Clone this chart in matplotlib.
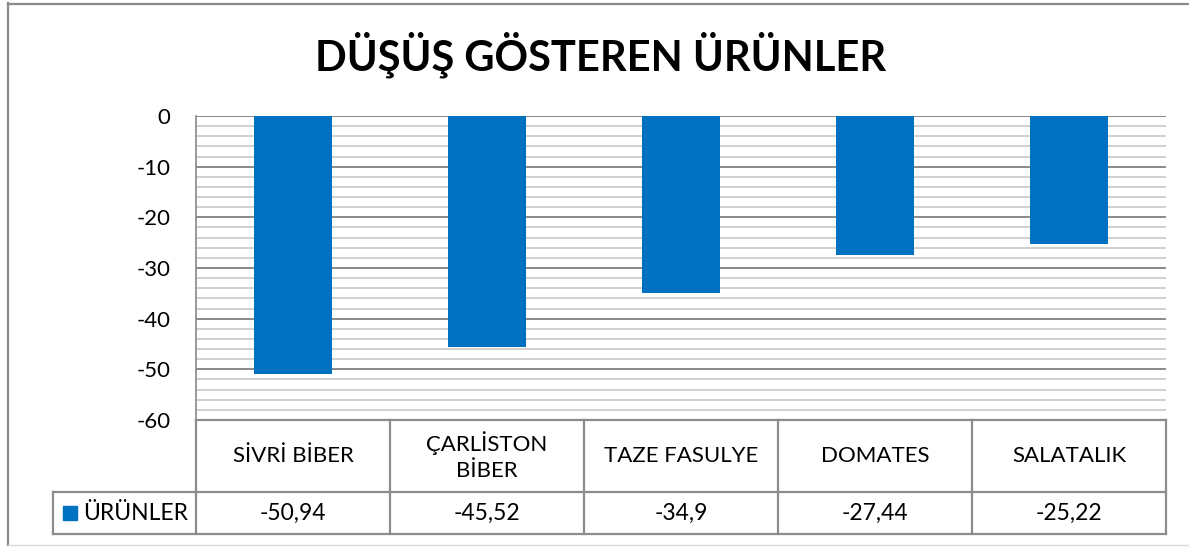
import matplotlib
matplotlib.use("Agg")
import matplotlib.pyplot as plt
from matplotlib.lines import Line2D
from matplotlib.patches import Rectangle

categories = ["SİVRİ BİBER", "ÇARLİSTON\nBİBER", "TAZE FASULYE", "DOMATES", "SALATALIK"]
values = [-50.94, -45.52, -34.9, -27.44, -25.22]
value_labels = ["-50,94", "-45,52", "-34,9", "-27,44", "-25,22"]
series_name = "ÜRÜNLER"
title = "DÜŞÜŞ GÖSTEREN ÜRÜNLER"
yticks = [0, -10, -20, -30, -40, -50, -60]

BLUE = "#0070C0"
GRID_MAJ = "#898989"
GRID_MIN = "#c4c4c4"
BORDER = "#8c8c8c"
FONT = ["Lato", "DejaVu Sans"]

W, H = 1189, 547
fig = plt.figure(figsize=(W / 100, H / 100), dpi=100)
fig.patch.set_facecolor("white")

def fx(px):
    return px / W

def fy(py):
    return 1 - py / H

# outer chart frame
fig.add_artist(Line2D([fx(8), fx(8)], [fy(3), fy(545)], color="#8a8a8a", lw=1.6, transform=fig.transFigure))
fig.add_artist(Line2D([fx(8), fx(1189)], [fy(3.5), fy(3.5)], color="#8a8a8a", lw=1.6, transform=fig.transFigure))
fig.add_artist(Line2D([fx(8), fx(1189)], [fy(545), fy(545)], color="#d9d9d9", lw=1.0, transform=fig.transFigure))

# plot area: x 196..1166, y 116..420
L, R, T, B = 196, 1166, 116, 420
ax = fig.add_axes([fx(L), fy(B), fx(R - L), (B - T) / H])
n = len(categories)
x = list(range(n))
ax.set_xlim(-0.5, n - 0.5)
ax.set_ylim(-60, 0)
ax.set_yticks(yticks)
ax.set_yticks([v for v in range(-60, 1, 2) if v % 10 != 0], minor=True)
ax.tick_params(axis="y", which="both", length=0, pad=18.5, labelsize=16)
ax.set_yticklabels([str(v) for v in yticks], fontfamily=FONT)
ax.set_xticks([])
for s in ["top", "right", "bottom"]:
    ax.spines[s].set_visible(False)
ax.spines["left"].set_color(GRID_MAJ)
ax.spines["left"].set_linewidth(1.2)
ax.grid(True, axis="y", which="major", color=GRID_MAJ, lw=1.4)
ax.grid(True, axis="y", which="minor", color=GRID_MIN, lw=1.1)
ax.set_axisbelow(True)
ax.bar(x, values, width=0.4, color=BLUE, zorder=3)

# title
fig.text(fx(601), fy(55), title, ha="center", va="center", fontsize=30,
         fontweight="bold", fontfamily=FONT, color="black")

# data table axes sharing x scale with plot
TB = 534
tax = fig.add_axes([fx(L), fy(TB), fx(R - L), (TB - B) / H], sharex=ax)
tax.set_ylim(0, 1)
tax.axis("off")
row_split = (TB - 492) / (TB - B)  # fraction for value row
cat_w = (R - L) / n
leg_left = -0.5 - (L - 53) / cat_w

lw_b = 1.6
# horizontal lines
tax.plot([-0.5, n - 0.5], [1, 1], color=BORDER, lw=lw_b, clip_on=False)
tax.plot([leg_left, n - 0.5], [row_split, row_split], color=BORDER, lw=lw_b, clip_on=False)
tax.plot([leg_left, n - 0.5], [0, 0], color=BORDER, lw=lw_b, clip_on=False)
# vertical lines
for i in range(n + 1):
    tax.plot([i - 0.5, i - 0.5], [0, 1], color=BORDER, lw=lw_b, clip_on=False)
tax.plot([leg_left, leg_left], [0, row_split], color=BORDER, lw=lw_b, clip_on=False)

for i, (c, v) in enumerate(zip(categories, value_labels)):
    tax.text(i, (1 + row_split) / 2, c, ha="center", va="center", fontsize=16,
             fontfamily=FONT, color="black", linespacing=1.35)
    tax.text(i, row_split / 2, v, ha="center", va="center", fontsize=16.5,
             fontfamily=FONT, color="black")

# legend key in table
sq_w = 14 / cat_w
tax.add_patch(Rectangle((leg_left + 10 / cat_w, row_split / 2 - 7 / (TB - B)), sq_w, 14 / (TB - B),
                        color=BLUE, clip_on=False))
tax.text(leg_left + 30 / cat_w, row_split / 2, series_name, ha="left", va="center",
         fontsize=16.5, fontfamily=FONT, color="black")

fig.savefig("out.png", dpi=100)
